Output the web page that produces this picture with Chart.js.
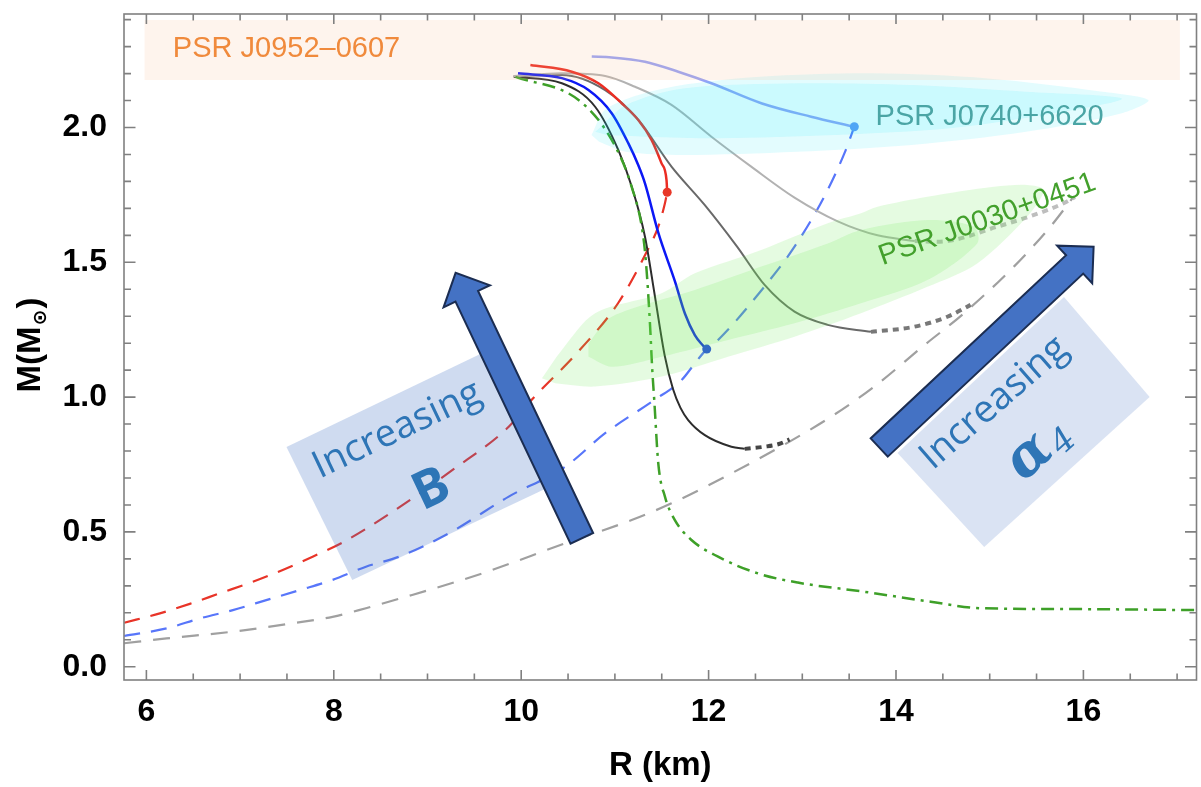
<!DOCTYPE html>
<html>
<head>
<meta charset="utf-8">
<script src="https://cdn.jsdelivr.net/npm/chart.js@4.4.1/dist/chart.umd.min.js"></script>
<style>
  html, body { margin: 0; padding: 0; background: #ffffff; }
  #wrap { width: 1201px; height: 787px; }
</style>
</head>
<body>
<div id="wrap"><canvas id="mr" width="1201" height="787"></canvas></div>
<script>
// ---- Mass–radius sequences, points are [R (km), M (M_sun)] ----
const redStable = [[10.098,2.232],[10.540,2.207],[10.824,2.164],[11.072,2.090],[11.250,2.028],[11.391,1.954],[11.498,1.867],[11.551,1.805],[11.558,1.760]];
const redBranch = [[5.764,0.163],[6.144,0.198],[6.463,0.233],[6.782,0.272],[7.136,0.315],[7.455,0.359],[7.774,0.408],[8.094,0.461],[8.572,0.562],[9.264,0.729],[9.867,0.890],[10.085,0.980],[10.612,1.170],[11.037,1.350],[11.356,1.550],[11.463,1.632],[11.534,1.719],[11.558,1.760]];

const blueStable = [[9.966,2.201],[10.434,2.183],[10.718,2.139],[10.966,2.053],[11.144,1.941],[11.250,1.860],[11.321,1.793],[11.463,1.610],[11.640,1.430],[11.747,1.310],[11.853,1.230],[11.930,1.195],[11.980,1.178]];
const blueBranch = [[5.764,0.114],[6.215,0.142],[6.569,0.179],[6.923,0.210],[7.279,0.247],[7.633,0.284],[7.987,0.322],[8.343,0.371],[8.697,0.408],[9.229,0.495],[9.867,0.631],[10.470,0.742],[10.896,0.866],[11.420,0.989],[11.711,1.063],[11.853,1.125],[11.980,1.178],[12.101,1.212],[12.580,1.403],[12.917,1.558],[13.236,1.745],[13.449,1.904],[13.555,2.003]];
const blueUpper = [[10.753,2.263],[10.966,2.260],[11.321,2.244],[11.676,2.207],[12.030,2.164],[12.562,2.090],[13.094,2.040],[13.555,2.003]];

const blackStable = [[9.920,2.188],[10.434,2.164],[10.789,2.077],[11.037,1.916],[11.180,1.780],[11.321,1.595],[11.428,1.372],[11.534,1.150],[11.620,1.030],[11.700,0.960],[11.782,0.915],[11.960,0.859],[12.243,0.816],[12.385,0.808]];
const blackTail = [[12.385,0.808],[12.598,0.816],[12.750,0.826],[12.864,0.843]];

const greyStable = [[9.920,2.191],[10.434,2.195],[10.896,2.139],[11.250,2.028],[11.604,1.855],[11.960,1.712],[12.300,1.560],[12.598,1.416],[12.917,1.317],[13.271,1.268],[13.732,1.242]];
const greyTail = [[13.732,1.242],[14.194,1.261],[14.548,1.298],[14.796,1.342]];

const paleStable = [[9.920,2.191],[10.434,2.201],[10.896,2.191],[11.215,2.151],[11.604,2.084],[12.030,1.966],[12.455,1.855],[12.917,1.740],[13.378,1.652],[13.803,1.600],[14.200,1.579]];
const paleTail = [[14.200,1.579],[14.441,1.576],[15.080,1.632],[15.789,1.719],[15.910,1.742]];

const greyBranch = [[5.764,0.087],[6.215,0.105],[6.923,0.130],[7.562,0.161],[7.987,0.185],[8.343,0.217],[8.697,0.252],[9.583,0.346],[10.470,0.458],[11.179,0.544],[11.604,0.606],[12.243,0.717],[12.864,0.835],[13.307,0.927],[13.768,1.039],[14.300,1.192],[14.725,1.311],[15.258,1.484],[15.647,1.632],[15.895,1.743]];

const greenCurve = [[9.939,2.188],[10.612,2.102],[10.966,1.954],[11.179,1.780],[11.303,1.595],[11.338,1.471],[11.374,1.274],[11.399,1.100],[11.420,0.989],[11.463,0.754],[11.534,0.631],[11.640,0.544],[11.817,0.470],[12.101,0.408],[12.527,0.346],[12.952,0.312],[13.662,0.278],[14.370,0.241],[14.902,0.217],[15.789,0.214],[17.207,0.210]];

const redEnd = [[11.558,1.760]];
const blueEnd = [[11.980,1.178]];
const blueTop = [[13.555,2.003]];

// ---- Observational constraints (M–R regions) ----
const j0952Band = [[5.98,2.176],[17.03,2.176],[17.03,2.399],[5.98,2.399]];
const j0740Outer = [[10.750,1.972],[10.913,2.071],[11.523,2.145],[12.541,2.188],[13.763,2.201],[14.984,2.182],[16.205,2.133],[16.694,2.102],[16.410,2.053],[15.388,1.984],[14.169,1.935],[12.948,1.910],[11.727,1.898],[11.116,1.910],[10.831,1.947]];
const j0740Inner = [[10.790,1.984],[11.116,2.083],[11.727,2.145],[12.948,2.164],[14.169,2.158],[15.388,2.133],[16.410,2.108],[15.798,2.059],[14.577,1.997],[13.355,1.972],[12.133,1.960],[11.319,1.966],[10.913,1.972]];
const j0030Outer = [[10.221,1.070],[10.434,1.175],[10.789,1.311],[11.498,1.385],[11.853,1.459],[12.562,1.546],[13.271,1.645],[13.626,1.682],[13.803,1.706],[14.335,1.743],[15.045,1.780],[15.399,1.787],[15.577,1.768],[15.399,1.669],[14.867,1.496],[14.335,1.409],[13.626,1.311],[12.917,1.224],[12.207,1.150],[11.498,1.076],[10.789,1.039],[10.364,1.051]];
const j0030Inner = [[10.718,1.200],[10.966,1.298],[11.853,1.397],[12.562,1.484],[13.271,1.570],[13.626,1.620],[14.335,1.657],[14.832,1.632],[14.867,1.570],[14.335,1.434],[13.626,1.348],[12.917,1.274],[12.207,1.212],[11.498,1.150],[10.966,1.113],[10.718,1.150]];

// ---- Axis ticks ----
const xTicks = [6, 8, 10, 12, 14, 16];
const yTicks = [0.0, 0.5, 1.0, 1.5, 2.0];

// ---- Annotations, anchored in data coordinates ----
const pulsarLabels = [
  { text: 'PSR J0952\u20130607', at: [6.282, 2.260], angle: 0, color: '#f08a3c' },
  { text: 'PSR J0740+6620', at: [13.782, 2.009], angle: 0, color: '#4aa5a5' },
  { text: 'PSR J0030+0451', at: [13.856, 1.489], angle: -19.5, color: '#43a02c' }
];
const panels = [
  { corners: [[7.495,0.815],[9.580,1.163],[10.293,0.666],[8.197,0.322]], fill: 'rgba(68,114,196,0.26)' },
  { corners: [[14.016,0.793],[15.793,1.371],[16.707,1.000],[14.941,0.444]], fill: 'rgba(68,114,196,0.20)' }
];
const arrows = [
  { from: [10.647, 0.476], to: [9.300, 1.461] },
  { from: [13.821, 0.813], to: [16.109, 1.558] }
];
const captions = [
  { text: 'Increasing', at: [8.676, 0.878], angle: -25.4, font: '38px "Open Sans"' },
  { text: 'B', at: [9.048, 0.655], angle: -25.4, font: 'bold 52px "Open Sans"' },
  { text: 'Increasing', at: [15.047, 0.978], angle: -41, font: '38px "Open Sans"' }
];
const alphaCaption = { at: [15.431, 0.778], angle: -42 };

const pts = a => a.map(([x, y]) => ({ x, y }));

function curve(data, color, width, dash, order) {
  return {
    data: pts(data), showLine: true, borderColor: color, borderWidth: width,
    borderDash: dash || [], pointRadius: 0, cubicInterpolationMode: 'monotone',
    fill: false, order: order
  };
}
function region(data, color, smooth) {
  return {
    data: pts(data), showLine: true, borderWidth: 0, borderColor: 'rgba(0,0,0,0)',
    backgroundColor: color, pointRadius: 0, tension: smooth, fill: 'shape', order: 2
  };
}
function dot(data, color) {
  return { data: pts(data), showLine: false, pointRadius: 4.5, pointBorderWidth: 0,
           backgroundColor: color, borderColor: color, order: 3 };
}

const datasets = [
  curve(greyBranch, 'rgb(160,160,160)', 2.2, [17, 12], 6),
  curve(blueBranch, 'rgb(88,118,250)', 2.2, [16, 11], 6),
  curve(redBranch, 'rgb(232,52,40)', 2.2, [16, 11], 6),
  curve(paleStable, 'rgb(178,178,178)', 2, null, 5),
  curve(paleTail, 'rgb(190,190,190)', 4, [6, 5], 5),
  curve(greyStable, 'rgb(105,105,105)', 2, null, 5),
  curve(greyTail, 'rgb(120,120,120)', 4, [6, 5], 5),
  curve(blackStable, 'rgb(45,45,45)', 2, null, 5),
  curve(blackTail, 'rgb(70,70,70)', 4, [6, 5], 5),
  curve(greenCurve, 'rgb(62,160,40)', 2.5, [13, 6, 3, 6], 4),
  curve(blueUpper, 'rgba(80,100,240,0.6)', 2.5, null, 4),
  curve(blueStable, 'rgb(12,24,245)', 2.5, null, 4),
  curve(redStable, 'rgb(235,45,35)', 2.5, null, 4),
  dot(redEnd, 'rgb(232,55,40)'),
  dot(blueEnd, 'rgb(40,80,220)'),
  dot(blueTop, 'rgb(100,150,245)'),
  region(j0952Band, 'rgba(250,185,140,0.16)', 0),
  region(j0740Outer, 'rgba(0,232,245,0.11)', 0.3),
  region(j0740Inner, 'rgba(0,232,245,0.11)', 0.3),
  region(j0030Outer, 'rgba(100,230,80,0.17)', 0.3),
  region(j0030Inner, 'rgba(100,230,80,0.17)', 0.3)
];

function drawArrow(ctx, t, h) {
  const dx = h[0] - t[0], dy = h[1] - t[1];
  const len = Math.hypot(dx, dy);
  const ux = dx / len, uy = dy / len, nx = -uy, ny = ux;
  const sw = 12.5, hw = 25.7, hl = 26;
  const bx = h[0] - ux * hl, by = h[1] - uy * hl;
  const p = [
    [t[0] + nx * sw, t[1] + ny * sw], [bx + nx * sw, by + ny * sw], [bx + nx * hw, by + ny * hw],
    [h[0], h[1]],
    [bx - nx * hw, by - ny * hw], [bx - nx * sw, by - ny * sw], [t[0] - nx * sw, t[1] - ny * sw]
  ];
  ctx.beginPath();
  p.forEach((q, i) => i ? ctx.lineTo(q[0], q[1]) : ctx.moveTo(q[0], q[1]));
  ctx.closePath();
  ctx.fillStyle = '#4472c4';
  ctx.fill();
  ctx.lineJoin = 'miter';
  ctx.lineWidth = 2;
  ctx.strokeStyle = '#1b2d52';
  ctx.stroke();
}

const decor = {
  id: 'decor',
  afterDatasetsDraw(chart) {
    const { ctx, scales: { x, y } } = chart;
    const P = c => [x.getPixelForValue(c[0]), y.getPixelForValue(c[1])];
    ctx.save();
    // pulsar names
    ctx.font = '29px "Liberation Sans"';
    ctx.textAlign = 'left';
    ctx.textBaseline = 'alphabetic';
    for (const l of pulsarLabels) {
      const [px, py] = P(l.at);
      ctx.save();
      ctx.translate(px, py);
      ctx.rotate(l.angle * Math.PI / 180);
      ctx.fillStyle = l.color;
      ctx.fillText(l.text, 0, 0);
      ctx.restore();
    }
    // shaded panels
    for (const b of panels) {
      ctx.beginPath();
      b.corners.forEach((c, i) => { const [px, py] = P(c); i ? ctx.lineTo(px, py) : ctx.moveTo(px, py); });
      ctx.closePath();
      ctx.fillStyle = b.fill;
      ctx.fill();
    }
    // arrows
    for (const a of arrows) drawArrow(ctx, P(a.from), P(a.to));
    // captions
    ctx.fillStyle = '#2e75b6';
    ctx.textAlign = 'center';
    ctx.textBaseline = 'middle';
    for (const c of captions) {
      const [px, py] = P(c.at);
      ctx.save();
      ctx.translate(px, py);
      ctx.rotate(c.angle * Math.PI / 180);
      ctx.font = c.font;
      ctx.fillText(c.text, 0, 0);
      ctx.restore();
    }
    {
      const [px, py] = P(alphaCaption.at);
      ctx.save();
      ctx.translate(px, py);
      ctx.rotate(alphaCaption.angle * Math.PI / 180);
      ctx.font = 'italic bold 56px "DejaVu Serif"';
      ctx.fillText('\u03b1', 0, 0);
      ctx.font = 'italic 34px "DejaVu Serif"';
      ctx.fillText('4', 35, 12);
      ctx.restore();
    }
    ctx.restore();
  },
  afterDraw(chart) {
    const { ctx, chartArea: a, scales: { x, y } } = chart;
    ctx.save();
    ctx.strokeStyle = '#808080';
    ctx.lineWidth = 1.6;
    ctx.strokeRect(a.left, a.top, a.right - a.left, a.bottom - a.top);
    ctx.beginPath();
    for (let i = Math.ceil(x.min * 2); i <= Math.floor(x.max * 2); i++) {
      const major = i % 4 === 0;
      const len = major ? 10 : 6.5;
      const px = x.getPixelForValue(i / 2);
      ctx.moveTo(px, a.bottom); ctx.lineTo(px, a.bottom - len);
      ctx.moveTo(px, a.top); ctx.lineTo(px, a.top + len);
    }
    for (let i = Math.ceil(y.min * 10); i <= Math.floor(y.max * 10); i++) {
      const major = i % 5 === 0;
      const len = major ? 11.5 : 7;
      const py = y.getPixelForValue(i / 10);
      ctx.moveTo(a.left, py); ctx.lineTo(a.left + len, py);
      ctx.moveTo(a.right, py); ctx.lineTo(a.right - len, py);
    }
    ctx.stroke();

    // y-axis title M(M_sun)
    ctx.fillStyle = '#000';
    ctx.textBaseline = 'alphabetic';
    ctx.textAlign = 'left';
    const big = 'bold 33px "Liberation Sans"', small = 'bold 19px "DejaVu Sans"';
    ctx.font = big; const w1 = ctx.measureText('M(M').width; const w3 = ctx.measureText(')').width;
    ctx.font = small; const w2 = ctx.measureText('\u2299').width;
    const total = w1 + w2 + w3 + 2;
    ctx.translate(40, 345);
    ctx.rotate(-Math.PI / 2);
    let s = -total / 2;
    ctx.font = big; ctx.fillText('M(M', s, 0); s += w1 + 1;
    ctx.font = small; ctx.fillText('\u2299', s, 6); s += w2 + 1;
    ctx.font = big; ctx.fillText(')', s, 0);
    ctx.restore();
  }
};

const tickFont = { family: 'Liberation Sans', size: 32, weight: 'bold' };

new Chart(document.getElementById('mr'), {
  type: 'scatter',
  data: { datasets },
  options: {
    responsive: false,
    animation: false,
    devicePixelRatio: 1,
    layout: { padding: { top: 14, right: 1, left: 0, bottom: 0 } },
    plugins: { legend: { display: false }, tooltip: { enabled: false } },
    scales: {
      x: {
        type: 'linear', position: 'bottom', min: 5.761, max: 17.207,
        grid: { display: false }, border: { display: false },
        afterBuildTicks: s => { s.ticks = xTicks.map(v => ({ value: v })); },
        afterFit: s => { s.height = 107; s.paddingLeft = 0; s.paddingRight = 0; },
        ticks: { font: tickFont, color: '#000', padding: 5, autoSkip: false, maxRotation: 0,
                 callback: v => String(v) },
        title: { display: true, text: 'R (km)', color: '#000',
                 font: { family: 'Liberation Sans', size: 33, weight: 'bold' },
                 padding: { top: 0, bottom: 1 } }
      },
      y: {
        type: 'linear', position: 'left', min: -0.0493, max: 2.421,
        grid: { display: false }, border: { display: false },
        afterBuildTicks: s => { s.ticks = yTicks.map(v => ({ value: v })); },
        afterFit: s => { s.width = 124; s.paddingTop = 0; s.paddingBottom = 0; },
        ticks: { font: tickFont, color: '#000', padding: 9, callback: v => v.toFixed(1) }
      }
    }
  },
  plugins: [decor]
});
</script>
</body>
</html>
